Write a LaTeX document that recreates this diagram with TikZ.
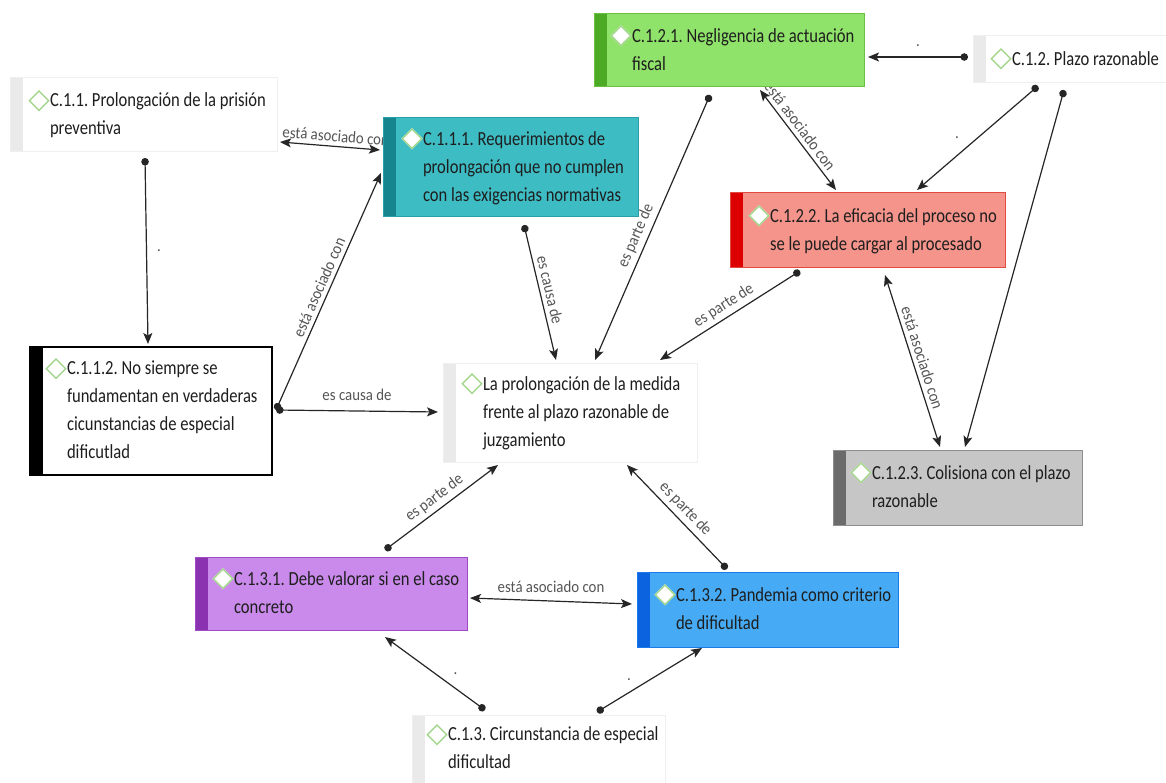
\documentclass[tikz,border=0pt]{standalone}
\usepackage{fontspec}
\setmainfont{Carlito}
\newfontfamily\nodefont[FakeStretch=0.83]{Carlito}
\newfontfamily\labfont[FakeStretch=0.9]{Carlito}
\newfontfamily\diafont{DejaVu Sans}
\usetikzlibrary{arrows.meta,calc}
\pgfdeclarelayer{bg}
\pgfsetlayers{bg,main}
\frenchspacing
\definecolor{diagreen}{HTML}{9FD487}
\definecolor{txt}{HTML}{1E1E1E}
\definecolor{labgray}{HTML}{555555}
\definecolor{edgecol}{HTML}{262626}
\definecolor{tealfill}{HTML}{3EBCC4}\definecolor{tealbar}{HTML}{16858D}\definecolor{tealline}{HTML}{2A9FA7}
\definecolor{greenfill}{HTML}{8FE26A}\definecolor{greenbar}{HTML}{4DAA25}\definecolor{greenline}{HTML}{6CC040}
\definecolor{redfill}{HTML}{F5948B}\definecolor{redbar}{HTML}{DD0000}\definecolor{redline}{HTML}{E04A40}
\definecolor{grayfill}{HTML}{C6C6C6}\definecolor{graybar}{HTML}{6B6B6B}\definecolor{grayline}{HTML}{8E8E8E}
\definecolor{purplefill}{HTML}{C98AEB}\definecolor{purplebar}{HTML}{8B32B0}\definecolor{purpleline}{HTML}{9E4BC4}
\definecolor{bluefill}{HTML}{46ABF4}\definecolor{bluebar}{HTML}{0B63E0}\definecolor{blueline}{HTML}{1A7BE8}
\definecolor{lightbar}{HTML}{EAEAEA}\definecolor{lightline}{HTML}{EFEFEF}
\newcommand\dmark{\leavevmode\llap{\diafont\fontsize{28}{28}\selectfont\raisebox{-1.5pt}{\rlap{\textcolor{white}{◆}}\textcolor{diagreen}{◇}}\hspace{0pt}}}
\newcommand\btext[3]{\makebox[#1pt][l]{\begin{tabular}{@{\hspace{#2pt}}l@{}}#3\end{tabular}}}
\tikzset{
  cbox/.style={anchor=north west, inner sep=0pt, outer sep=0pt,
    font=\nodefont\fontsize{20}{28}\selectfont, text=txt, line width=1pt},
  sz/.style n args={2}{minimum width=#1pt, minimum height=#2pt},
  bar/.style={path picture={\fill[#1] (path picture bounding box.north west) rectangle ([xshift=13pt]path picture bounding box.south west);}},
  edge/.style={draw=edgecol, line width=1.2pt},
  dot/.style={{Circle[length=7.5pt]}-{Stealth[length=11pt,width=9pt,inset=2.5pt]}},
  both/.style={{Stealth[length=11pt,width=9pt,inset=2.5pt]}-{Stealth[length=11pt,width=9pt,inset=2.5pt]}},
  lab/.style={font=\labfont\fontsize{16.5}{17}\selectfont, text=labgray, inner sep=4pt},
}
\begin{document}
\begin{tikzpicture}[x=1pt,y=-1pt]
\useasboundingbox (0,0) rectangle (1166,783);
% nodes
\node[cbox, sz={267}{74}, fill=white, draw=lightline, bar=lightbar] (c11) at (10,78)
  {\btext{267}{40}{\dmark C.1.1. Prolongación de la prisión\\preventiva}};
\node[cbox, sz={255}{99}, fill=tealfill, draw=tealline, bar=tealbar] (c111) at (383,118)
  {\btext{255}{40}{\dmark C.1.1.1. Requerimientos de\\prolongación que no cumplen\\con las exigencias normativas}};
\node[cbox, sz={270}{73}, fill=greenfill, draw=greenline, bar=greenbar] (c121) at (594,14)
  {\btext{270}{38}{\dmark C.1.2.1. Negligencia de actuación\\fiscal}};
\node[cbox, sz={193}{47}, fill=white, draw=lightline, bar=lightbar] (c12) at (973,36)
  {\btext{193}{39}{\dmark C.1.2. Plazo razonable}};
\node[cbox, sz={275}{75}, fill=redfill, draw=redline, bar=redbar] (c122) at (730,193)
  {\btext{275}{40}{\dmark C.1.2.2. La eficacia del proceso no\\se le puede cargar al procesado}};
\node[cbox, sz={254}{99}, fill=white, draw=lightline, bar=lightbar] (cen) at (443,363)
  {\btext{254}{40}{\dmark La prolongación de la medida\\frente al plazo razonable de\\juzgamiento}};
\node[cbox, sz={242}{128}, fill=white, draw=black, line width=1.5pt, bar=black] (c112) at (30,347)
  {\btext{242}{37}{\dmark C.1.1.2. No siempre se\\fundamentan en verdaderas\\cicunstancias de especial\\dificutlad}};
\node[cbox, sz={249}{75}, fill=grayfill, draw=grayline, bar=graybar] (c123) at (833,450)
  {\btext{249}{39}{\dmark C.1.2.3. Colisiona con el plazo\\razonable}};
\node[cbox, sz={272}{73}, fill=purplefill, draw=purpleline, bar=purplebar] (c131) at (195,557)
  {\btext{272}{39}{\dmark C.1.3.1. Debe valorar si en el caso\\concreto}};
\node[cbox, sz={261}{75}, fill=bluefill, draw=blueline, bar=bluebar] (c132) at (637,572)
  {\btext{261}{39}{\dmark C.1.3.2. Pandemia como criterio\\de dificultad}};
\node[cbox, sz={253}{68}, fill=white, draw=lightline, bar=lightbar] (c13) at (412,715)
  {\btext{253}{36}{\dmark C.1.3. Circunstancia de especial\\dificultad}};
% edges
\begin{pgfonlayer}{bg}
\fill[white] (0,0) rectangle (1166,783);
\draw[edge, both] ($(c11.north west)+(270,64)$) -- node[lab, pos=0.55, above, sloped] {está asociado con} ($(c111.north west)+(-3,32)$);
\draw[edge, dot] ($(c11.north west)+(135,80)$) -- node[lab, midway, right, xshift=6pt] {.} ($(c112.north west)+(118,-3)$);
\draw[edge, dot] ($(c112.north west)+(246,63)$) -- node[lab, midway, above, sloped] {está asociado con} ($(c111.north west)+(-2,55)$);
\draw[edge, dot] ($(c112.north west)+(246,63)$) -- node[lab, midway, above, yshift=6pt] {es causa de} ($(cen.north west)+(-5,49)$);
\draw[edge, dot] ($(c111.north west)+(141,107)$) -- node[lab, midway, above, sloped] {es causa de} ($(cen.north west)+(113,-3)$);
\draw[edge, dot] ($(c121.north west)+(116,81)$) -- node[lab, pos=0.55, above, sloped] {es parte de} ($(cen.north west)+(152,-3)$);
\draw[edge, both] ($(c121.north west)+(166,76)$) -- node[lab, pos=0.42, above, sloped] {está asociado con} ($(c122.north west)+(106,-3)$);
\draw[edge, dot] ($(c12.north west)+(-5,21)$) -- node[lab, midway, above, yshift=6pt] {.} ($(c121.north west)+(274,43)$);
\draw[edge, dot] ($(c12.north west)+(65,50)$) -- node[lab, midway, left, xshift=-14pt] {.} ($(c122.north west)+(187,-3)$);
\draw[edge, dot] ($(c12.north west)+(91,54)$) -- ($(c123.north west)+(132,-3)$);
\draw[edge, dot] ($(c122.north west)+(70,78)$) -- node[lab, midway, above, sloped] {es parte de} ($(cen.north west)+(217,-3)$);
\draw[edge, both] ($(c122.north west)+(155,82)$) -- node[lab, midway, above, sloped] {está asociado con} ($(c123.north west)+(107,-3)$);
\draw[edge, dot] ($(c131.north west)+(190,-7)$) -- node[lab, midway, above, sloped] {es parte de} ($(cen.north west)+(55,102)$);
\draw[edge, dot] ($(c132.north west)+(90,-3)$) -- node[lab, midway, above, sloped] {es parte de} ($(cen.north west)+(184,102)$);
\draw[edge, both] ($(c131.north west)+(275,41)$) -- node[lab, midway, above, yshift=4pt] {está asociado con} ($(c132.north west)+(-5,32)$);
\draw[edge, dot] ($(c13.north west)+(73,-5)$) -- node[lab, midway, right, xshift=14pt] {.} ($(c131.north west)+(190,80)$);
\draw[edge, dot] ($(c13.north west)+(185,-3)$) -- node[lab, midway, left, xshift=-14pt] {.} ($(c132.north west)+(65,76)$);
\end{pgfonlayer}
\end{tikzpicture}
\end{document}
